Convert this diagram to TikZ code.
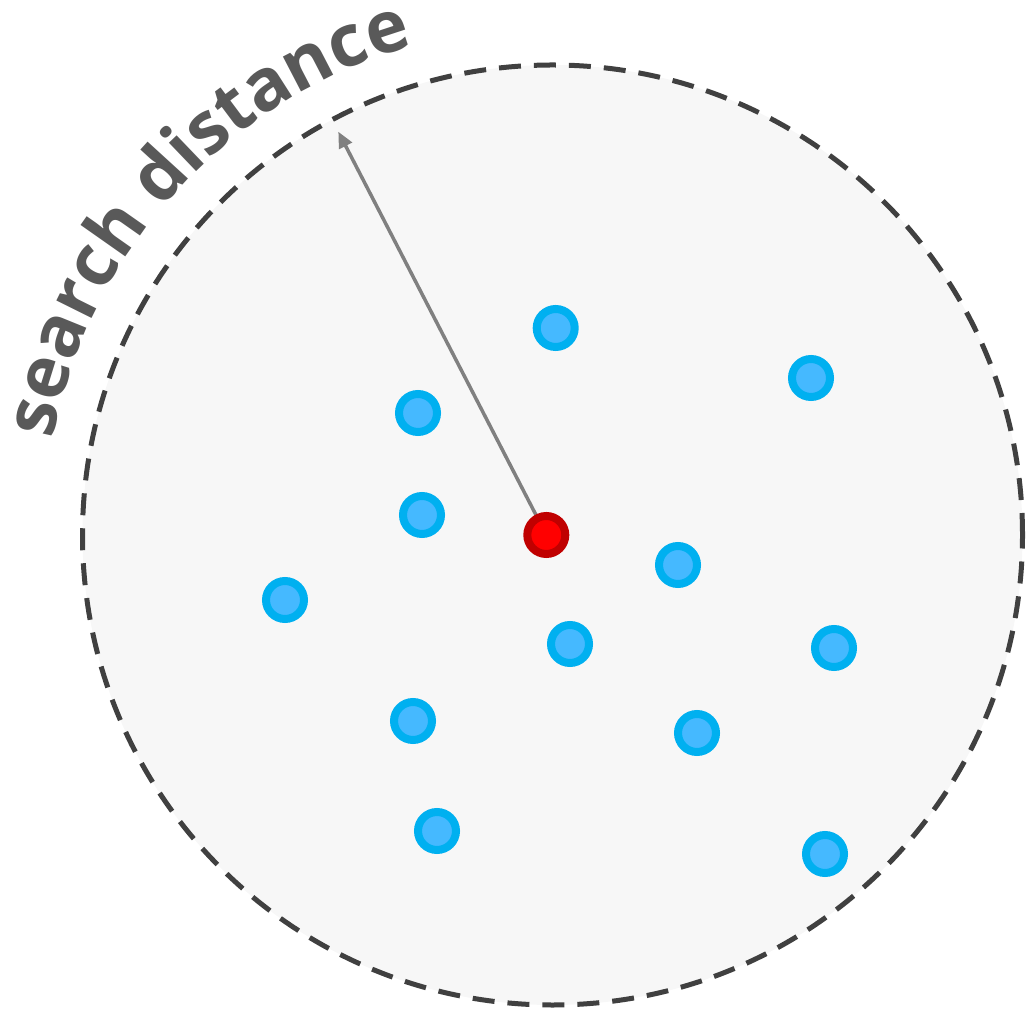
\documentclass[tikz,border=0pt]{standalone}
\usepackage{fontspec}
\newfontfamily\labelfont{Open Sans}
\usetikzlibrary{decorations.text,arrows.meta}
\definecolor{areafill}{HTML}{F7F7F7}
\definecolor{rimgray}{HTML}{404040}
\definecolor{lblgray}{HTML}{595959}
\definecolor{arrowgray}{HTML}{808080}
\definecolor{blueout}{HTML}{00B0F0}
\definecolor{bluein}{HTML}{45B9FF}
\definecolor{redout}{HTML}{C00000}
\definecolor{redin}{HTML}{FF0000}
\pgfdeclarelayer{backlayer}
\pgfdeclarelayer{midlayer}
\pgfsetlayers{backlayer,midlayer,main}
\tikzset{
  bluedot/.style={circle, minimum size=38pt, inner sep=0pt, fill=bluein, draw=blueout, line width=8pt},
  reddot/.style={circle, minimum size=38pt, inner sep=0pt, fill=redin, draw=redout, line width=8pt},
  rim/.style={fill=areafill, draw=rimgray, line width=5pt, dash pattern=on 22pt off 13pt},
  radiusarrow/.style={draw=arrowgray, line width=3.5pt, -{Triangle[length=16pt,width=14pt]}}
}
\begin{document}
\begin{tikzpicture}[x=1pt,y=1pt]
\useasboundingbox (0,0) rectangle (1030,1010);
\coordinate (c) at (552.5,475);
\begin{pgfonlayer}{backlayer}
\path[rim] (c) circle[radius=470];
\path[decorate, decoration={text along path, text align=center,
  text={|\labelfont\bfseries\fontsize{72}{86}\selectfont\color{lblgray}|search distance}}]
  (c) ++(178:509) arc[start angle=178, end angle=97, radius=509];
\end{pgfonlayer}
\node[reddot] (red) at (546.3,475) {};
\coordinate (tip) at (338.3,878.3);
\begin{pgfonlayer}{midlayer}
\draw[radiusarrow] (red.center) -- (tip);
\end{pgfonlayer}
\node[bluedot] (b1) at (555.7,682) {};
\node[bluedot] (b2) at (811,632) {};
\node[bluedot] (b3) at (418,597) {};
\node[bluedot] (b4) at (422,495) {};
\node[bluedot] (b5) at (678,445) {};
\node[bluedot] (b6) at (285,410) {};
\node[bluedot] (b7) at (570,366) {};
\node[bluedot] (b8) at (834,362) {};
\node[bluedot] (b9) at (413,289) {};
\node[bluedot] (b10) at (697,277) {};
\node[bluedot] (b11) at (437,179) {};
\node[bluedot] (b12) at (825,156) {};
\end{tikzpicture}
\end{document}
